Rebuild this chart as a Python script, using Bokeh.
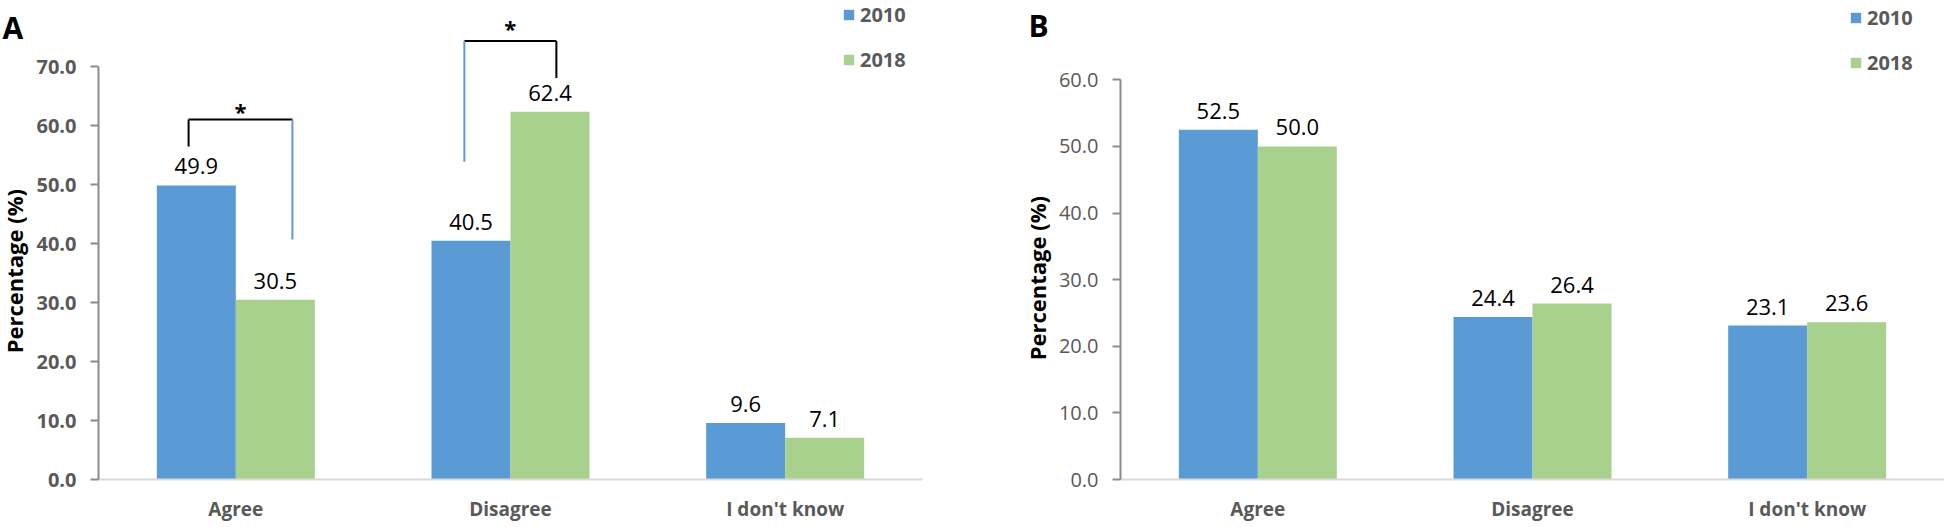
import math
from bokeh.plotting import figure
from bokeh.layouts import row
from bokeh.models import (ColumnDataSource, FactorRange, Range1d, FixedTicker,
                          PrintfTickFormatter, Legend, LegendItem)
from bokeh.transform import dodge
from bokeh.core.properties import value
from bokeh.embed import file_html
from bokeh.resources import INLINE

# ---------------- data ----------------
categories = ["Agree", "Disagree", "I don't know"]
series_names = ["2010", "2018"]
a_2010 = [49.9, 40.5, 9.6]
a_2018 = [30.5, 62.4, 7.1]
b_2010 = [52.5, 24.4, 23.1]
b_2018 = [50.0, 26.4, 23.6]
a_ticks = [0, 10, 20, 30, 40, 50, 60, 70]
b_ticks = [0, 10, 20, 30, 40, 50, 60]
panel_letters = ["A", "B"]
y_title = "Percentage (%)"

# significance brackets of panel A (x in category units, y in percent)
sig_x0 = [0.328, 1.332]
sig_x1 = [0.706, 1.667]
sig_top = [61.1, 74.4]
sig_left_bottom = [56.5, 53.9]
sig_right_bottom = [40.7, 68.1]
sig_star_y = [62.5, 76.6]
sig_label = ["*", "*"]

BLUE = "#5b9bd5"
GREEN = "#a9d18e"
GRAY_TXT = "#595959"
AXIS_GRAY = "#8c8c8c"
FONT = "Open Sans"
BAR_W = 0.2876
OFF = BAR_W / 2
H = 526
BB = 47          # bottom border shared by all figures of the row
FH = H - BB      # frame height
K = 0.9917       # vertical scale of the page


def make_strip(width, letter, letter_x, letter_base, title_x, title_y):
    s = figure(width=width, height=H, x_range=Range1d(0, width), y_range=Range1d(FH, 0),
               x_axis_location=None, y_axis_location=None,
               output_backend="svg", toolbar_location=None,
               min_border_left=0, min_border_right=0, min_border_top=0,
               min_border_bottom=BB, outline_line_color=None,
               background_fill_color="white", border_fill_color="white")
    s.grid.visible = False
    s.text(x=[letter_x], y=[letter_base], text=[letter], text_align="left",
           text_baseline="alphabetic", text_font=value(FONT), text_font_size="30px",
           text_font_style="bold", text_color="black")
    s.text(x=[title_x], y=[title_y], text=[y_title], angle=math.pi / 2,
           text_align="center", text_baseline="middle", text_font=value(FONT),
           text_font_size="22px", text_font_style="bold", text_color="black")
    return s


def make_panel(v2010, v2018, ticks, y_end, width, border_left, border_right,
               bold_ticks, legend_loc):
    p = figure(width=width, height=H,
               x_range=FactorRange(factors=categories, range_padding=0),
               y_range=Range1d(0, y_end),
               output_backend="svg", toolbar_location=None,
               min_border_left=border_left, min_border_right=border_right,
               min_border_top=0, min_border_bottom=BB,
               outline_line_color=None, background_fill_color="white",
               border_fill_color="white")
    p.grid.visible = False

    src = ColumnDataSource(dict(
        cat=categories, v2010=v2010, v2018=v2018,
        l2010=[f"{v:.1f}" for v in v2010], l2018=[f"{v:.1f}" for v in v2018]))

    r1 = p.vbar(x=dodge("cat", -OFF, range=p.x_range), top="v2010", width=BAR_W,
                source=src, fill_color=BLUE, line_color=None)
    r2 = p.vbar(x=dodge("cat", OFF, range=p.x_range), top="v2018", width=BAR_W,
                source=src, fill_color=GREEN, line_color=None)

    for key, off in (("2010", -OFF), ("2018", OFF)):
        p.text(x=dodge("cat", off, range=p.x_range), y="v" + key, text="l" + key,
               source=src, text_align="center", text_baseline="alphabetic",
               y_offset=-19, text_font=value(FONT), text_font_size="22px",
               text_color="black")

    ya = p.yaxis[0]
    ya.ticker = FixedTicker(ticks=ticks)
    ya.formatter = PrintfTickFormatter(format="%.1f")
    ya.bounds = (ticks[0], ticks[-1])
    ya.axis_line_color = AXIS_GRAY
    ya.axis_line_width = 2
    ya.major_tick_line_color = AXIS_GRAY
    ya.major_tick_line_width = 2
    ya.major_tick_out = 8
    ya.major_tick_in = 0
    ya.minor_tick_line_color = None
    ya.major_label_standoff = 14
    ya.major_label_text_font = FONT
    ya.major_label_text_font_size = "20px"
    ya.major_label_text_font_style = "bold" if bold_ticks else "normal"
    ya.major_label_text_color = GRAY_TXT

    xa = p.xaxis[0]
    xa.axis_line_color = "#d9d9d9"
    xa.axis_line_width = 2
    xa.major_tick_line_color = None
    xa.major_tick_out = 0
    xa.major_tick_in = 0
    xa.minor_tick_line_color = None
    xa.major_label_standoff = 16
    xa.major_label_text_font = FONT
    xa.major_label_text_font_size = "19px"
    xa.major_label_text_font_style = "bold"
    xa.major_label_text_color = GRAY_TXT

    legend = Legend(items=[LegendItem(label=series_names[0], renderers=[r1]),
                           LegendItem(label=series_names[1], renderers=[r2])],
                    location=legend_loc, orientation="vertical",
                    border_line_color=None, background_fill_alpha=0,
                    padding=0, margin=0, spacing=17,
                    glyph_width=13, glyph_height=13, label_height=28,
                    label_standoff=5, label_text_font=FONT,
                    label_text_font_size="20px", label_text_font_style="bold",
                    label_text_color=GRAY_TXT)
    p.add_layout(legend)
    return p


sA = make_strip(30, panel_letters[0], 2, 27 * K, 13, 273 * K)
pA = make_panel(a_2010, a_2018, a_ticks, 81.27, 970, 68, 78, True, (744, 406))
sB = make_strip(52, panel_letters[1], 28, 25 * K, 36, 280 * K)
pB = make_panel(b_2010, b_2018, b_ticks, 71.9, 892, 68, 0, False, (729, 403))

# brackets on panel A
seg = dict(x0=[], y0=[], x1=[], y1=[], c=[])
leg_colors = [("black", BLUE), (BLUE, "black")]
for i in range(len(sig_x0)):
    lc, rc = leg_colors[i]
    seg["x0"] += [sig_x0[i], sig_x0[i], sig_x1[i]]
    seg["y0"] += [sig_top[i], sig_left_bottom[i], sig_top[i]]
    seg["x1"] += [sig_x1[i], sig_x0[i], sig_x1[i]]
    seg["y1"] += [sig_top[i], sig_top[i], sig_right_bottom[i]]
    seg["c"] += ["black", lc, rc]
pA.segment(x0="x0", y0="y0", x1="x1", y1="y1", color="c", line_width=2,
           source=ColumnDataSource(seg))
pA.text(x=[(a + b) / 2 for a, b in zip(sig_x0, sig_x1)], y=sig_star_y, text=sig_label,
        text_align="center", text_baseline="alphabetic", text_font=value(FONT),
        text_font_size="22px", text_font_style="bold", text_color="black")

layout = row(sA, pA, sB, pB)
open("out.html", "w").write(file_html(layout, INLINE))
